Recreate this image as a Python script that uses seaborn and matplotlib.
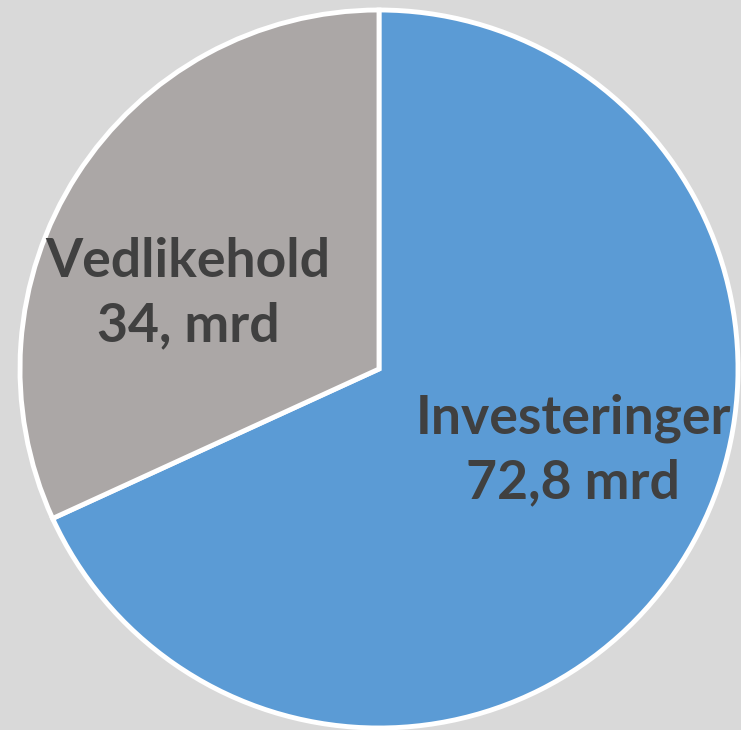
import matplotlib
matplotlib.use("Agg")
import matplotlib.pyplot as plt
import seaborn as sns

categories = ["Investeringer", "Vedlikehold"]
values = [72.8, 34.0]
value_labels = ["72,8 mrd", "34, mrd"]
colors = ["#5B9BD5", "#ABA7A6"]

sns.set_theme(style="white")
plt.rcParams['font.family'] = ['Lato', 'DejaVu Sans']

W, H = 741, 730
fig = plt.figure(figsize=(W / 100, H / 100), dpi=100, facecolor="#D9D9D9")
ax = fig.add_axes([0, 0, 1, 1])
ax.set_facecolor("#D9D9D9")

cx, cy, r = 379, H - 369, 359
ax.pie(values, colors=colors, startangle=90, counterclock=False,
       center=(cx, cy), radius=r, frame=True,
       wedgeprops=dict(edgecolor="white", linewidth=3.5))
ax.set_xlim(0, W)
ax.set_ylim(0, H)
ax.set_aspect("equal")
ax.axis("off")

label_pos = [(573, H - 450), (188, H - 294)]
for (x, y), cat, lab in zip(label_pos, categories, value_labels):
    ax.text(x, y, f"{cat}\n{lab}", ha="center", va="center", fontsize=38.5,
            fontweight="bold", color="#404040", linespacing=1.38)

fig.savefig("out.png", dpi=100, facecolor=fig.get_facecolor())
